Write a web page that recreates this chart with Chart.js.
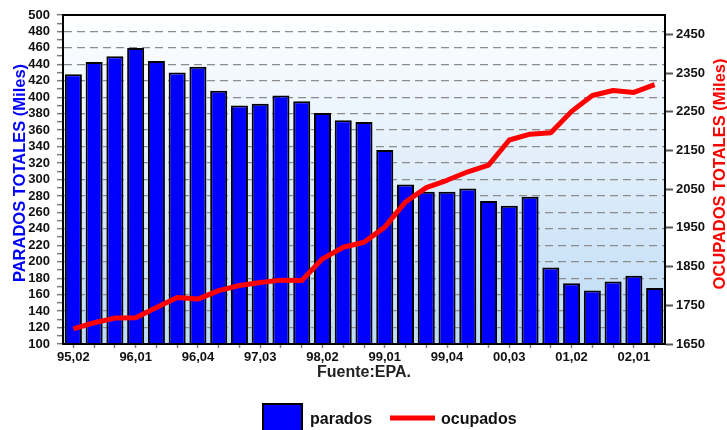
<!DOCTYPE html>
<html>
<head>
<meta charset="utf-8">
<script src="https://cdn.jsdelivr.net/npm/chart.js@4"></script>
<style>
  html, body { margin: 0; padding: 0; background: #ffffff; }
  #wrap { width: 727px; height: 430px; position: relative; }
</style>
</head>
<body>
<div id="wrap"><canvas id="c"></canvas></div>
<script>
const categories = ["95,02","95,03","95,04","96,01","96,02","96,03","96,04","97,01","97,02","97,03","97,04","98,01","98,02","98,03","98,04","99,01","99,02","99,03","99,04","00,01","00,02","00,03","00,04","01,01","01,02","01,03","01,04","02,01","02,02"];
const parados = [428, 443, 450, 460, 444, 430, 437, 408, 390, 392, 402, 395, 381, 372, 370, 336, 294, 285, 285, 289, 274, 268, 279, 193, 174, 165, 176, 183, 168];
const ocupados = [1689, 1705, 1717, 1718, 1744, 1770, 1766, 1788, 1801, 1809, 1815, 1814, 1870, 1900, 1913, 1952, 2017, 2054, 2073, 2095, 2112, 2177, 2192, 2196, 2251, 2292, 2305, 2300, 2320];
const leftTicks = { min: 100, max: 500, step: 10, labelStep: 20 };
const rightTickValues = [1650, 1750, 1850, 1950, 2050, 2150, 2250, 2350, 2450];
const rightRange = { min: 1650, max: 2500 };
const seriesNames = ["parados", "ocupados"];
const axisTitles = { left: "PARADOS TOTALES (Miles)", right: "OCUPADOS TOTALES (Miles)", bottom: "Fuente:EPA." };

const FONT = "'Liberation Sans', Arial, Helvetica, sans-serif";

const decor = {
  id: 'decor',
  beforeDraw(chart) {
    const { ctx, chartArea: a } = chart;
    const g = ctx.createLinearGradient(0, a.top, 0, a.bottom);
    g.addColorStop(0, '#ffffff');
    g.addColorStop(1, '#bcdaf5');
    ctx.save();
    ctx.fillStyle = g;
    ctx.fillRect(a.left, a.top, a.right - a.left, a.bottom - a.top);
    ctx.restore();
  },
  afterDatasetsDraw(chart) {
    const { ctx, chartArea: a } = chart;
    ctx.save();
    ctx.strokeStyle = '#000000';
    ctx.lineWidth = 2;
    ctx.beginPath();
    ctx.moveTo(a.left, a.top);
    ctx.lineTo(a.right, a.top);
    ctx.moveTo(a.left, a.bottom);
    ctx.lineTo(a.right, a.bottom);
    ctx.moveTo(a.right, a.top);
    ctx.lineTo(a.right, a.bottom);
    ctx.stroke();
    ctx.restore();
  },
  afterDraw(chart) {
    const { ctx } = chart;
    ctx.save();
    ctx.font = "bold 16.5px " + FONT;
    ctx.textAlign = 'center';
    ctx.textBaseline = 'alphabetic';
    ctx.save();
    ctx.translate(25, 173);
    ctx.rotate(-Math.PI / 2);
    ctx.fillStyle = '#0000ff';
    ctx.fillText(axisTitles.left, 0, 0);
    ctx.restore();
    ctx.save();
    ctx.translate(725, 174);
    ctx.rotate(-Math.PI / 2);
    ctx.fillStyle = '#ff0000';
    ctx.fillText(axisTitles.right, 0, 0);
    ctx.restore();

    const ds0 = chart.data.datasets[0], ds1 = chart.data.datasets[1];
    ctx.fillStyle = ds0.backgroundColor;
    ctx.fillRect(263, 404, 39, 32);
    ctx.strokeStyle = '#000000';
    ctx.lineWidth = 2;
    ctx.strokeRect(263, 404, 39, 32);
    ctx.font = "bold 16px " + FONT;
    ctx.textAlign = 'left';
    ctx.fillStyle = '#111111';
    ctx.fillText(ds0.label, 310, 424);
    ctx.strokeStyle = ds1.borderColor;
    ctx.lineWidth = 5;
    ctx.beginPath();
    ctx.moveTo(390, 418);
    ctx.lineTo(435, 418);
    ctx.stroke();
    ctx.fillStyle = '#111111';
    ctx.fillText(ds1.label, 441, 424);
    ctx.restore();
  }
};

new Chart(document.getElementById('c'), {
  data: {
    labels: categories,
    datasets: [
      {
        type: 'bar',
        label: seriesNames[0],
        data: parados,
        yAxisID: 'y',
        backgroundColor: '#0000ff',
        borderColor: '#000000',
        borderWidth: 2,
        barPercentage: 0.82,
        categoryPercentage: 1.0,
        order: 2
      },
      {
        type: 'line',
        label: seriesNames[1],
        data: ocupados,
        yAxisID: 'y1',
        borderColor: '#ff0000',
        backgroundColor: '#ff0000',
        borderWidth: 5,
        pointRadius: 0,
        tension: 0,
        borderJoinStyle: 'round',
        borderCapStyle: 'butt',
        order: 1
      }
    ]
  },
  options: {
    responsive: true,
    maintainAspectRatio: false,
    animation: false,
    layout: { padding: { top: 15, left: 0, right: 0, bottom: 0 } },
    plugins: {
      legend: { display: false },
      tooltip: { enabled: false }
    },
    scales: {
      x: {
        type: 'category',
        offset: true,
        afterFit(s) { s.height = 86; },
        grid: {
          offset: false,
          drawOnChartArea: false,
          drawTicks: true,
          tickLength: 4,
          tickColor: '#808080',
          tickWidth: 1.5
        },
        border: { display: true, color: '#000000', width: 2 },
        ticks: {
          autoSkip: false,
          maxRotation: 0,
          padding: 2,
          color: '#111111',
          font: { family: FONT, size: 13, weight: 'bold' },
          callback(v, i) { return i % 3 === 0 ? categories[i] : ''; }
        },
        title: {
          display: true,
          text: axisTitles.bottom,
          color: '#222222',
          font: { family: FONT, size: 16, weight: 'bold' },
          padding: { top: 0, bottom: 48 }
        }
      },
      y: {
        type: 'linear',
        position: 'left',
        min: leftTicks.min,
        max: leftTicks.max,
        afterFit(s) { s.width = 63; },
        grid: {
          drawOnChartArea: true,
          drawTicks: true,
          tickLength: 6,
          tickWidth: 1.5,
          lineWidth: 1.3,
          color(ctx) {
            const v = ctx.tick && ctx.tick.value;
            if (v === undefined) return 'rgba(0,0,0,0)';
            if (v === leftTicks.min || v === leftTicks.max) return 'rgba(0,0,0,0)';
            return (v % leftTicks.labelStep === 0) ? '#8c8c8c' : 'rgba(0,0,0,0)';
          },
          tickColor: '#7a7a7a'
        },
        border: { display: true, color: '#000000', width: 2, dash: [8, 5] },
        ticks: {
          stepSize: leftTicks.step,
          autoSkip: false,
          padding: 7,
          color: '#111111',
          font: { family: FONT, size: 13, weight: 'bold' },
          callback(v) { return v % leftTicks.labelStep === 0 ? String(v) : ''; }
        }
      },
      y1: {
        type: 'linear',
        position: 'right',
        min: rightRange.min,
        max: rightRange.max,
        afterFit(s) { s.width = 62; },
        afterBuildTicks(s) { s.ticks = rightTickValues.map(v => ({ value: v })); },
        grid: {
          drawOnChartArea: false,
          drawTicks: true,
          tickLength: 8,
          tickWidth: 2,
          tickColor: '#555555'
        },
        border: { display: true, color: '#000000', width: 2 },
        ticks: {
          autoSkip: false,
          padding: 3,
          color: '#111111',
          font: { family: FONT, size: 13, weight: 'bold' },
          callback(v) { return String(v); }
        }
      }
    }
  },
  plugins: [decor]
});
</script>
</body>
</html>
